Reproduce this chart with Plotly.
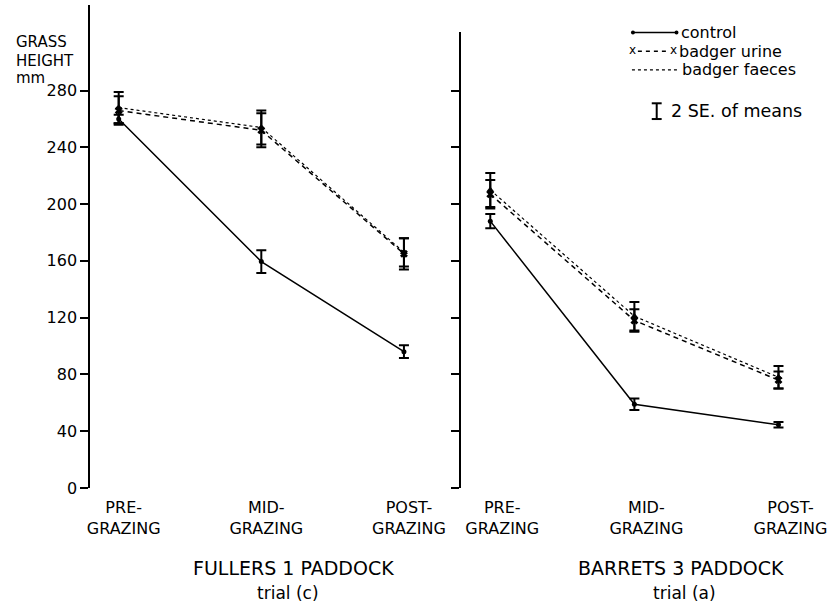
import plotly.graph_objects as go

# ---- data ----
stages = [0, 1, 2]
stage_labels = ["PRE-<br>GRAZING", "MID-<br>GRAZING", "POST-<br>GRAZING"]
y_ticks = [0, 40, 80, 120, 160, 200, 240, 280]

fullers_control = [260, 159.5, 96]
fullers_control_err = [3, 8, 4.5]
fullers_urine = [266, 252, 165]
fullers_urine_err = [10, 12, 11]
fullers_faeces = [268, 254, 166]
fullers_faeces_err = [11, 12, 10]

barrets_control = [188, 59, 44.5]
barrets_control_err = [5, 4, 2]
barrets_urine = [207, 118, 76]
barrets_urine_err = [10, 8, 6]
barrets_faeces = [210, 121, 78]
barrets_faeces_err = [12, 10, 8]

W, H = 839, 615
FONT = "DejaVu Sans"


def px(x):
    return x / W


def py(y):
    return 1 - y / H


fig = go.Figure()


def add_panel(xa, ya, ctrl, ctrl_e, uri, uri_e, fae, fae_e):
    common_err = dict(type="data", visible=True, color="black", thickness=2, width=5)
    fig.add_trace(go.Scatter(
        x=stages, y=fae, xaxis=xa, yaxis=ya, mode="lines+markers",
        line=dict(color="black", width=1.2, dash="dot"),
        marker=dict(symbol="triangle-up", size=7, color="black"),
        error_y=dict(array=fae_e, **common_err), showlegend=False))
    fig.add_trace(go.Scatter(
        x=stages, y=uri, xaxis=xa, yaxis=ya, mode="lines+markers",
        line=dict(color="black", width=1.5, dash="5px,4px"),
        marker=dict(symbol="x", size=7, color="black"),
        error_y=dict(array=uri_e, **common_err), showlegend=False))
    fig.add_trace(go.Scatter(
        x=stages, y=ctrl, xaxis=xa, yaxis=ya, mode="lines+markers",
        line=dict(color="black", width=1.5),
        marker=dict(symbol="circle", size=5, color="black"),
        error_y=dict(array=ctrl_e, **common_err), showlegend=False))


add_panel("x", "y", fullers_control, fullers_control_err, fullers_urine,
          fullers_urine_err, fullers_faeces, fullers_faeces_err)
add_panel("x2", "y2", barrets_control, barrets_control_err, barrets_urine,
          barrets_urine_err, barrets_faeces, barrets_faeces_err)

y_bottom = py(496)
scale = 1.4425  # px per unit

xcommon = dict(showline=False, showgrid=False, zeroline=False, ticks="",
               tickvals=stages, ticktext=stage_labels, ticklabelstandoff=8,
               tickfont=dict(family=FONT, size=16, color="black"))
ycommon = dict(showgrid=False, zeroline=False, showline=True, linecolor="black",
               linewidth=1.6, ticks="outside", ticklen=8, tickwidth=1.5,
               tickcolor="black", tickvals=y_ticks,
               tickfont=dict(family=FONT, size=16, color="black"))

fig.update_layout(
    width=W, height=H, autosize=False,
    margin=dict(l=0, r=0, t=0, b=0),
    paper_bgcolor="white", plot_bgcolor="white",
    xaxis=dict(domain=[px(88), px(448)], range=[-0.2, 2.3], anchor="y",
               ticklabelshift=5, **xcommon),
    xaxis2=dict(domain=[px(462), px(826.6)], range=[-0.206, 2.3], anchor="y2",
                ticklabelshift=12, **xcommon),
    yaxis=dict(domain=[y_bottom, py(496 - 340 * scale)], range=[0, 340],
               anchor="x", showticklabels=True, **ycommon),
    yaxis2=dict(domain=[y_bottom, py(496 - 321 * scale)], range=[0, 321],
                anchor="x2", showticklabels=False, **ycommon),
)

ann = []
for txt, yy in (("GRASS", 43), ("HEIGHT", 62), ("mm", 79.5)):
    ann.append(dict(text=txt, x=px(11), y=py(yy), xref="paper", yref="paper",
                    xanchor="left", yanchor="middle", showarrow=False,
                    font=dict(family=FONT, size=15, color="black")))
ann.append(dict(text="FULLERS 1 PADDOCK", x=px(293), y=py(577), xref="paper", yref="paper",
                xanchor="center", yanchor="middle", showarrow=False,
                font=dict(family=FONT, size=19, color="black")))
ann.append(dict(text="trial (c)", x=px(288), y=py(603), xref="paper", yref="paper",
                xanchor="center", yanchor="middle", showarrow=False,
                font=dict(family=FONT, size=17, color="black")))
ann.append(dict(text="BARRETS 3 PADDOCK", x=px(685), y=py(577), xref="paper", yref="paper",
                xanchor="center", yanchor="middle", showarrow=False,
                font=dict(family=FONT, size=19, color="black")))
ann.append(dict(text="trial (a)", x=px(688), y=py(603), xref="paper", yref="paper",
                xanchor="center", yanchor="middle", showarrow=False,
                font=dict(family=FONT, size=17, color="black")))

# legend
leg_items = [("control", 33, 683), ("badger urine", 52, 680), ("badger faeces", 71, 684)]
for name, yy, xx in leg_items:
    ann.append(dict(text=name, x=px(xx), y=py(yy), xref="paper", yref="paper",
                    xanchor="left", yanchor="middle", showarrow=False,
                    font=dict(family=FONT, size=16, color="black")))
ann.append(dict(text="2 SE. of means", x=px(672), y=py(113), xref="paper", yref="paper",
                xanchor="left", yanchor="middle", showarrow=False,
                font=dict(family=FONT, size=17.5, color="black")))
for xx in (636, 677):
    ann.append(dict(text="x", x=px(xx), y=py(51), xref="paper", yref="paper",
                    xanchor="center", yanchor="middle", showarrow=False,
                    font=dict(family=FONT, size=12, color="black")))
fig.update_layout(annotations=ann)

shapes = []
shapes.append(dict(type="line", xref="paper", yref="paper", x0=px(635), x1=px(681),
                   y0=py(33), y1=py(33), line=dict(color="black", width=1.5)))
for xx in (636, 680):
    shapes.append(dict(type="circle", xref="paper", yref="paper", x0=px(xx - 2), x1=px(xx + 2),
                       y0=py(31), y1=py(35), fillcolor="black", line=dict(color="black", width=0)))
shapes.append(dict(type="line", xref="paper", yref="paper", x0=px(641), x1=px(673),
                   y0=py(52), y1=py(52), line=dict(color="black", width=1.5, dash="4px,4px")))
shapes.append(dict(type="line", xref="paper", yref="paper", x0=px(635), x1=px(683),
                   y0=py(71), y1=py(71), line=dict(color="black", width=1.2, dash="dot")))
# SE glyph
shapes.append(dict(type="line", xref="paper", yref="paper", x0=px(660), x1=px(660),
                   y0=py(105), y1=py(121), line=dict(color="black", width=2)))
for yy in (105, 121):
    shapes.append(dict(type="line", xref="paper", yref="paper", x0=px(655), x1=px(665),
                       y0=py(yy), y1=py(yy), line=dict(color="black", width=2)))
fig.update_layout(shapes=shapes)

fig.write_html("out.html")
